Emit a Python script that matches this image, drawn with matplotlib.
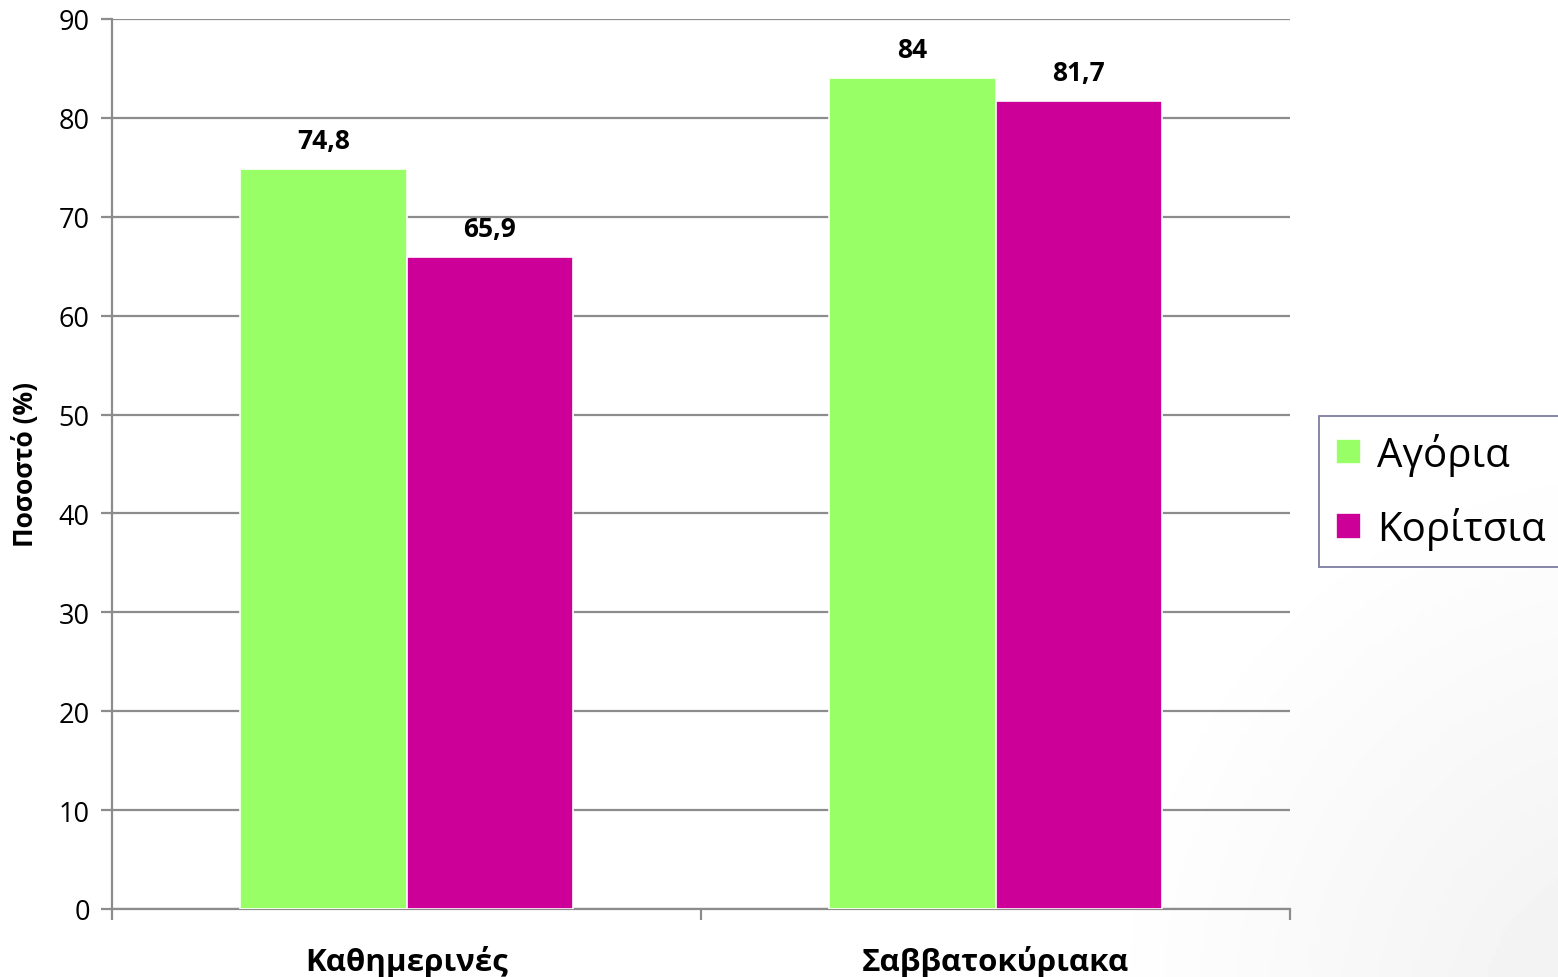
import matplotlib.pyplot as plt
import numpy as np

categories = ["Καθημερινές", "Σαββατοκύριακα"]
series_names = ["Αγόρια", "Κορίτσια"]
boys = [74.8, 84.0]
girls = [65.9, 81.7]
value_labels = [["74,8", "84"], ["65,9", "81,7"]]
colors = ["#99FF66", "#CC0099"]

plt.rcParams["font.family"] = ["Open Sans", "DejaVu Sans"]

fig = plt.figure(figsize=(15.58, 9.78), dpi=100)

# subtle grey shading in the lower right corner
bg = fig.add_axes([0, 0, 1, 1], zorder=-10)
gx, gy = np.meshgrid(np.linspace(0, 1, 400), np.linspace(0, 1, 250))
dist = np.hypot((gx - 1.05) / 0.35, (gy - 1.05) / 0.6)
shade = 1 - 0.06 * np.clip(1 - dist, 0, 1)
bg.imshow(shade, cmap="gray", vmin=0, vmax=1, extent=[0, 1, 0, 1], aspect="auto")
bg.axis("off")

ax = fig.add_axes([112 / 1558, 1 - 910 / 978, 1178 / 1558, 890 / 978])
ax.patch.set_alpha(0)

x = np.arange(len(categories))
width = 0.282
grid_color = "#8c8c8c"
for i, (vals, color, name) in enumerate(zip([boys, girls], colors, series_names)):
    offset = (i - 0.5) * width
    bars = ax.bar(x + offset, vals, width, color=color, edgecolor="white",
                  linewidth=1.2, label=name, zorder=3)
    for bar, txt in zip(bars, value_labels[i]):
        ax.annotate(txt, (bar.get_x() + bar.get_width() / 2, bar.get_height()),
                    xytext=(0, 11), textcoords="offset points", ha="center",
                    va="bottom", fontsize=19, fontweight="bold")

ax.set_xlim(-0.5, 1.5)
ax.set_ylim(0, 90)
ax.set_yticks(np.arange(0, 91, 10))
ax.yaxis.grid(True, color=grid_color, linewidth=1.6, zorder=0)
ax.set_axisbelow(True)

ax.set_xticks([-0.5, 0.5, 1.5])
ax.set_xticklabels([])
ax.set_xticks(x, minor=True)
ax.set_xticklabels(categories, minor=True, fontsize=22.5, fontweight="bold")
ax.tick_params(axis="x", which="minor", length=0, pad=26)
ax.tick_params(axis="x", which="major", length=8, width=1.6, color=grid_color)
ax.tick_params(axis="y", length=8, width=1.6, color=grid_color, labelsize=19.5, pad=8)

for side in ["top", "right"]:
    ax.spines[side].set_visible(False)
for side in ["left", "bottom"]:
    ax.spines[side].set_color(grid_color)
    ax.spines[side].set_linewidth(1.6)

ax.set_ylabel("Ποσοστό (%)", fontsize=19, fontweight="bold", labelpad=14)

leg = ax.legend(loc="center left", bbox_to_anchor=(1.025, 0.469), fontsize=29,
                frameon=True, fancybox=False, handlelength=0.6, handleheight=0.6,
                handletextpad=0.4, borderpad=0.42, labelspacing=0.78,
                borderaxespad=0)
leg.get_frame().set_edgecolor("#5c5c8c")
leg.get_frame().set_linewidth(1.3)

fig.savefig("out.png", dpi=100)
